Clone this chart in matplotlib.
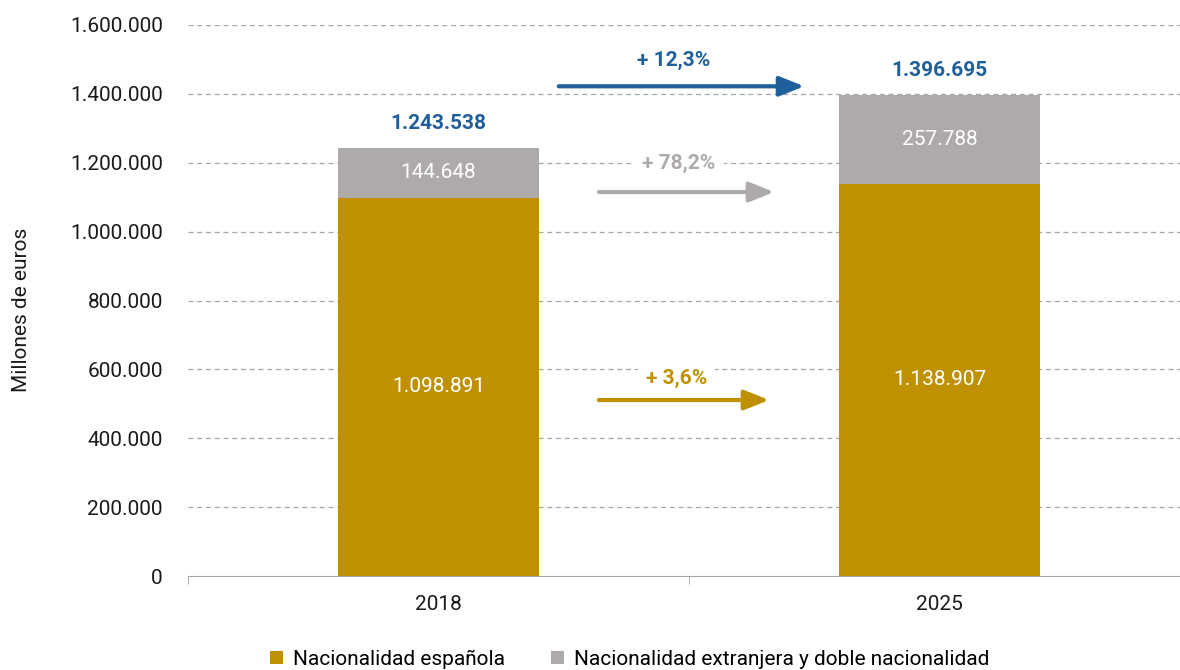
import numpy as np
import matplotlib
matplotlib.use("Agg")
import matplotlib.pyplot as plt
from matplotlib.ticker import FuncFormatter, FixedLocator

# --- Data ---
years = ["2018", "2025"]
espanola = [1098891, 1138907]
extranjera = [144648, 257788]
totals = [1243538, 1396695]
growth_labels = ["+ 12,3%", "+ 78,2%", "+ 3,6%"]

GOLD = "#BF9000"
GREY = "#AEAAAA"
BLUE = "#1F5F9B"
GRID = "#A6A6A6"
INK = "#1A1A1A"

plt.rcParams.update({
    "font.family": ["Roboto", "DejaVu Sans"],
    "font.size": 15,
})

def fmt(v):
    return f"{int(v):,}".replace(",", ".")

fig = plt.figure(figsize=(11.8, 6.7), dpi=100)
ax = fig.add_axes([188 / 1180, 1 - 576 / 670, 1002 / 1180, 551 / 670])

x = np.arange(len(years))
w = 0.4
ax.bar(x, espanola, w, color=GOLD, label="Nacionalidad española", zorder=3)
ax.bar(x, extranjera, w, bottom=espanola, color=GREY,
       label="Nacionalidad extranjera y doble nacionalidad", zorder=3)

for i in range(len(years)):
    ax.text(x[i], espanola[i] / 2, fmt(espanola[i]), ha="center", va="center",
            color="white", fontsize=15, zorder=4)
    ax.text(x[i], espanola[i] + extranjera[i] / 2, fmt(extranjera[i]),
            ha="center", va="center", color="white", fontsize=15, zorder=4)
    ax.text(x[i], totals[i] + 70000, fmt(totals[i]), ha="center", va="center",
            color=BLUE, fontsize=15, weight="bold", zorder=4)

# growth arrows between the bars
arrows = [
    (0.24, 0.73, 1422000, BLUE, 1498000),
    (0.32, 0.67, 1115000, GREY, 1199000),
    (0.32, 0.66, 511000, GOLD, 575000),
]
for (x0, x1, yv, col, ty), lab in zip(arrows, growth_labels):
    ax.annotate("", xy=(x1, yv), xytext=(x0, yv),
                arrowprops=dict(arrowstyle="-|>,head_length=1.0,head_width=0.4",
                                color=col, lw=3, shrinkA=0, shrinkB=0), zorder=4)
    ax.text((x0 + x1) / 2 - 0.015, ty, lab, ha="center", va="center", color=col,
            fontsize=15, weight="bold", zorder=4,
            bbox=dict(facecolor="white", edgecolor="none", pad=6))

ax.set_xlim(-0.5, 1.5)
ax.set_ylim(0, 1600000)
ax.set_yticks(np.arange(0, 1600001, 200000))
ax.yaxis.set_major_formatter(FuncFormatter(lambda v, p: fmt(v)))
ax.set_xticks(x, years)
ax.xaxis.set_minor_locator(FixedLocator([-0.5, 0.5, 1.5]))
ax.tick_params(axis="x", which="major", length=0, pad=14, labelcolor=INK)
ax.tick_params(axis="x", which="minor", length=6, color=GRID)
ax.tick_params(axis="y", length=0, pad=18, labelcolor=INK)

for yv in np.arange(200000, 1600001, 200000):
    ax.axhline(yv, color=GRID, lw=0.9, ls=(0, (4, 3)), zorder=1)

for s in ["top", "right", "left"]:
    ax.spines[s].set_visible(False)
ax.spines["bottom"].set_color(GRID)

fig.text(22 / 1180, 1 - 310 / 670, "Millones de euros", rotation=90,
         ha="center", va="center", fontsize=15, color=INK)

fig.legend(loc="center", bbox_to_anchor=(630 / 1180, 1 - 659 / 670), ncol=2,
           frameon=False, fontsize=15, handlelength=0.6, handleheight=0.6,
           columnspacing=2.2, handletextpad=0.5)

fig.savefig("out.png", dpi=100)
